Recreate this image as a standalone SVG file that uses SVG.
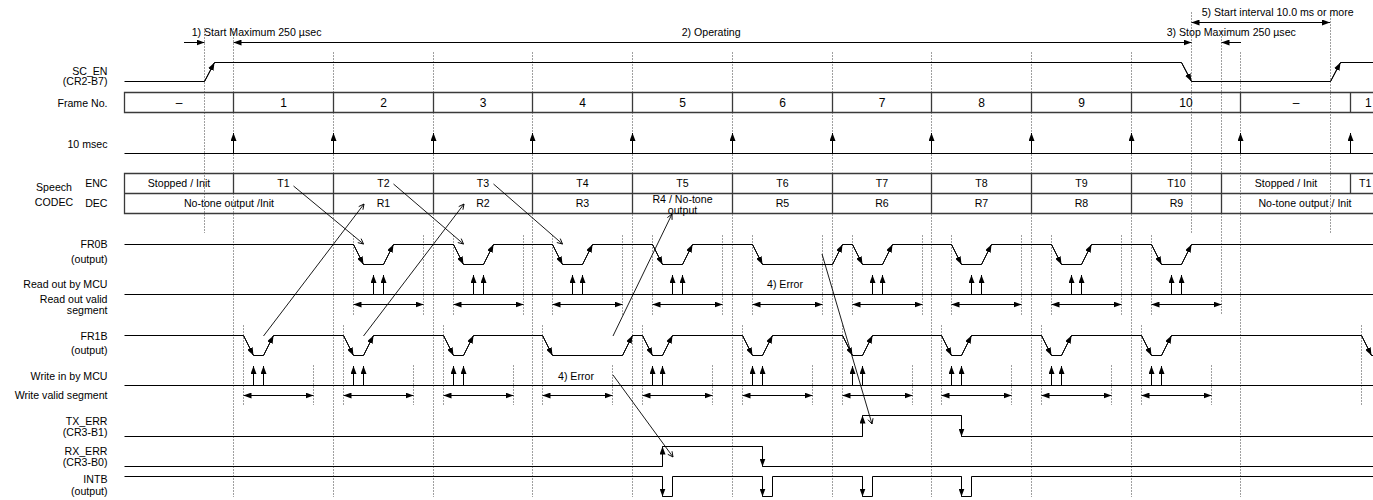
<svg xmlns="http://www.w3.org/2000/svg" width="1373" height="500" viewBox="0 0 1373 500">
<style>
text{font-family:"Liberation Sans",Arial,sans-serif;font-size:10.6px;fill:#000}
.r{text-anchor:end}
.m{text-anchor:middle}
.big{font-size:12px}
.sig{fill:none;stroke:#000;stroke-width:1}
.e{fill:none;stroke:#000;stroke-width:1;marker-end:url(#ah)}
.d{fill:none;stroke:#000;stroke-width:1;marker-start:url(#ah);marker-end:url(#ah)}
.g{fill:none;stroke:#a0a0a0;stroke-width:1;stroke-dasharray:2 1}
.c{fill:none;stroke:#000;stroke-width:0.9;marker-end:url(#oh)}
.cell{fill:none;stroke:#3a3a3a;stroke-width:1.3}
</style>
<defs>
<marker id="ah" viewBox="0 0 8 6" refX="8" refY="3" markerWidth="8" markerHeight="6" markerUnits="userSpaceOnUse" orient="auto-start-reverse"><path d="M0,0 L8,3 L0,6 z" fill="#000"/></marker>
<marker id="oh" viewBox="0 0 8 8" refX="7" refY="4" markerWidth="7" markerHeight="7" markerUnits="userSpaceOnUse" orient="auto"><path d="M1,1 L7,4 L1,7" fill="none" stroke="#000" stroke-width="1"/></marker>
</defs>
<rect width="1373" height="500" fill="#fff"/>

<g id="guides" class="g">
<path d="M204.5,28V233 M233.5,28V497 M333.5,52V497 M433.5,52V497 M532.5,52V497 M632.5,52V497 M732.5,52V497 M832.5,52V497 M931.5,52V497 M1031.5,52V497 M1131.5,52V497 M1191.5,12V233 M1221.5,30V315 M1240.5,52V497 M1330.5,12V233"/>
<path d="M353.5,235V315 M423.5,235V315 M453.5,235V315 M523.5,235V315 M552.5,235V315 M622.5,235V315 M652.5,235V315 M722.5,235V315 M752.5,235V315 M822.5,235V315 M852.5,235V315 M922.5,235V315 M951.5,235V315 M1021.5,235V315 M1051.5,235V315 M1121.5,235V315 M1151.5,235V315"/>
<path d="M243.5,325V405 M343.5,325V405 M443.5,325V405 M542.5,325V405 M642.5,325V405 M742.5,325V405 M842.5,325V405 M941.5,325V405 M1041.5,325V405 M1141.5,325V405 M1361.5,325V405"/>
<path d="M313.5,365V405 M413.5,365V405 M513.5,365V405 M612.5,365V405 M712.5,365V405 M812.5,365V405 M912.5,365V405 M1011.5,365V405 M1111.5,365V405 M1211.5,365V405"/>
</g>

<g id="labels">
<text class="r" x="107.5" y="75">SC_EN</text>
<text class="r" x="107.5" y="84.5">(CR2-B7)</text>
<text class="r" x="107.5" y="106.5">Frame No.</text>
<text class="r" x="107.5" y="147.5">10 msec</text>
<text class="m" x="54" y="191">Speech</text>
<text class="m" x="54" y="205.5">CODEC</text>
<text class="r" x="107.5" y="187">ENC</text>
<text class="r" x="107.5" y="207">DEC</text>
<text class="r" x="107.5" y="248">FR0B</text>
<text class="r" x="107.5" y="263">(output)</text>
<text class="r" x="107.5" y="288.3">Read out by MCU</text>
<text class="r" x="107.5" y="302.7">Read out valid</text>
<text class="r" x="107.5" y="314">segment</text>
<text class="r" x="107.5" y="339.5">FR1B</text>
<text class="r" x="107.5" y="354">(output)</text>
<text class="r" x="107.5" y="379.5">Write in by MCU</text>
<text class="r" x="107.5" y="398.5">Write valid segment</text>
<text class="r" x="107.5" y="424.5">TX_ERR</text>
<text class="r" x="107.5" y="436">(CR3-B1)</text>
<text class="r" x="107.5" y="454.5">RX_ERR</text>
<text class="r" x="107.5" y="466">(CR3-B0)</text>
<text class="r" x="107.5" y="483">INTB</text>
<text class="r" x="107.5" y="494.5">(output)</text>
</g>

<g id="phases">
<text x="191.7" y="36">1) Start Maximum 250 µsec</text>
<text x="681.7" y="36">2) Operating</text>
<text x="1166.7" y="36">3) Stop Maximum 250 µsec</text>
<text x="1201.7" y="15.5">5) Start interval 10.0 ms or more</text>
<path class="e" d="M184,42.5H204.5"/>
<path class="d" d="M233.5,42.5H1191.5"/>
<path class="e" d="M1241,42.5H1221.5"/>
<path class="d" d="M1191.5,22.5H1330"/>
</g>

<g id="sc_en">
<path class="sig" d="M124.5,81.5H204.5L214.5,62.5H1181.5L1191.5,81.5H1330.5L1340.5,62.5H1373"/>
<path class="e" d="M204.5,81.5L214.5,62.5"/>
<path class="e" d="M1181.5,62.5L1191.5,81.5"/>
<path class="e" d="M1330.5,81.5L1340.5,62.5"/>
</g>

<g id="frame_no">
<path class="cell" d="M1373,92.5H124.5V112.5H1373 M233.5,92.5V112.5 M333.5,92.5V112.5 M433.5,92.5V112.5 M532.5,92.5V112.5 M632.5,92.5V112.5 M732.5,92.5V112.5 M832.5,92.5V112.5 M931.5,92.5V112.5 M1031.5,92.5V112.5 M1131.5,92.5V112.5 M1240.5,92.5V112.5 M1350.5,92.5V112.5"/>
<text class="m big" x="179" y="107">–</text>
<text class="m big" x="283.5" y="107">1</text>
<text class="m big" x="383.5" y="107">2</text>
<text class="m big" x="483" y="107">3</text>
<text class="m big" x="582.5" y="107">4</text>
<text class="m big" x="682.5" y="107">5</text>
<text class="m big" x="782.5" y="107">6</text>
<text class="m big" x="882" y="107">7</text>
<text class="m big" x="981.5" y="107">8</text>
<text class="m big" x="1081.5" y="107">9</text>
<text class="m big" x="1186" y="107">10</text>
<text class="m big" x="1296" y="107">–</text>
<text class="big" x="1365" y="107">1</text>
</g>

<g id="ten_msec">
<path class="sig" d="M124.5,153.5H1373"/>
<path class="e" d="M233.5,153.5V133"/>
<path class="e" d="M333.5,153.5V133"/>
<path class="e" d="M433.5,153.5V133"/>
<path class="e" d="M532.5,153.5V133"/>
<path class="e" d="M632.5,153.5V133"/>
<path class="e" d="M732.5,153.5V133"/>
<path class="e" d="M832.5,153.5V133"/>
<path class="e" d="M931.5,153.5V133"/>
<path class="e" d="M1031.5,153.5V133"/>
<path class="e" d="M1131.5,153.5V133"/>
<path class="e" d="M1240.5,153.5V133"/>
<path class="e" d="M1350.5,153.5V133"/>
</g>

<g id="codec">
<path class="cell" d="M1373,173.5H124.5V213.5H1373 M124.5,193.5H1373 M233.5,173.5V193.5 M1350.5,173.5V193.5 M333.5,173.5V213.5 M433.5,173.5V213.5 M532.5,173.5V213.5 M632.5,173.5V213.5 M732.5,173.5V213.5 M832.5,173.5V213.5 M931.5,173.5V213.5 M1031.5,173.5V213.5 M1131.5,173.5V213.5 M1221.5,173.5V213.5"/>
<text class="m" x="179" y="187">Stopped / Init</text>
<text class="m" x="283.5" y="187">T1</text>
<text class="m" x="383.5" y="187">T2</text>
<text class="m" x="483" y="187">T3</text>
<text class="m" x="582.5" y="187">T4</text>
<text class="m" x="682.5" y="187">T5</text>
<text class="m" x="782.5" y="187">T6</text>
<text class="m" x="882" y="187">T7</text>
<text class="m" x="981.5" y="187">T8</text>
<text class="m" x="1081.5" y="187">T9</text>
<text class="m" x="1176.5" y="187">T10</text>
<text class="m" x="1286" y="187">Stopped / Init</text>
<text x="1359" y="187">T1</text>
<text class="m" x="229" y="207">No-tone output /Init</text>
<text class="m" x="383.5" y="207">R1</text>
<text class="m" x="483" y="207">R2</text>
<text class="m" x="582.5" y="207">R3</text>
<text class="m" x="682.5" y="203">R4 / No-tone</text>
<text class="m" x="682.5" y="213.5">output</text>
<text class="m" x="782.5" y="207">R5</text>
<text class="m" x="882" y="207">R6</text>
<text class="m" x="981.5" y="207">R7</text>
<text class="m" x="1081.5" y="207">R8</text>
<text class="m" x="1176.5" y="207">R9</text>
<text class="m" x="1305" y="207">No-tone output / Init</text>
</g>

<g id="fr0b">
<path class="sig" d="M124.5,244.5H353.5L363.5,264.5H383.5L393.5,244.5H453.5L463.5,264.5H483.5L493.5,244.5H552.5L562.5,264.5H582.5L592.5,244.5H652.5L662.5,264.5H682.5L692.5,244.5H752.5L762.5,264.5H832.5L842.5,244.5H852.5L862.5,264.5H882.5L892.5,244.5H951.5L961.5,264.5H981.5L991.5,244.5H1051.5L1061.5,264.5H1081.5L1091.5,244.5H1151.5L1161.5,264.5H1181.5L1191.5,244.5H1373"/>
<path class="e" d="M353.5,244.5L363.5,264.5"/><path class="e" d="M383.5,264.5L393.5,244.5"/>
<path class="e" d="M453.5,244.5L463.5,264.5"/><path class="e" d="M483.5,264.5L493.5,244.5"/>
<path class="e" d="M552.5,244.5L562.5,264.5"/><path class="e" d="M582.5,264.5L592.5,244.5"/>
<path class="e" d="M652.5,244.5L662.5,264.5"/><path class="e" d="M682.5,264.5L692.5,244.5"/>
<path class="e" d="M752.5,244.5L762.5,264.5"/><path class="e" d="M832.5,264.5L842.5,244.5"/>
<path class="e" d="M852.5,244.5L862.5,264.5"/><path class="e" d="M882.5,264.5L892.5,244.5"/>
<path class="e" d="M951.5,244.5L961.5,264.5"/><path class="e" d="M981.5,264.5L991.5,244.5"/>
<path class="e" d="M1051.5,244.5L1061.5,264.5"/><path class="e" d="M1081.5,264.5L1091.5,244.5"/>
<path class="e" d="M1151.5,244.5L1161.5,264.5"/><path class="e" d="M1181.5,264.5L1191.5,244.5"/>
</g>

<g id="read_mcu">
<path class="sig" d="M124.5,294.5H1373"/>
<path class="e" d="M373.5,294.5V275"/><path class="e" d="M383.5,294.5V275"/>
<path class="e" d="M473.5,294.5V275"/><path class="e" d="M483.5,294.5V275"/>
<path class="e" d="M572.5,294.5V275"/><path class="e" d="M582.5,294.5V275"/>
<path class="e" d="M672.5,294.5V275"/><path class="e" d="M682.5,294.5V275"/>
<path class="e" d="M872.5,294.5V275"/><path class="e" d="M882.5,294.5V275"/>
<path class="e" d="M971.5,294.5V275"/><path class="e" d="M981.5,294.5V275"/>
<path class="e" d="M1071.5,294.5V275"/><path class="e" d="M1081.5,294.5V275"/>
<path class="e" d="M1171.5,294.5V275"/><path class="e" d="M1181.5,294.5V275"/>
<text x="767" y="288">4) Error</text>
</g>

<g id="read_seg">
<path class="d" d="M353.5,304.5H423.5"/>
<path class="d" d="M453.5,304.5H523.5"/>
<path class="d" d="M552.5,304.5H622.5"/>
<path class="d" d="M652.5,304.5H722.5"/>
<path class="d" d="M752.5,304.5H822.5"/>
<path class="d" d="M852.5,304.5H922.5"/>
<path class="d" d="M951.5,304.5H1021.5"/>
<path class="d" d="M1051.5,304.5H1121.5"/>
<path class="d" d="M1151.5,304.5H1221.5"/>
</g>

<g id="fr1b">
<path class="sig" d="M124.5,335.5H243.5L253.5,355.5H263.5L273.5,335.5H343.5L353.5,355.5H363.5L373.5,335.5H443.5L453.5,355.5H463.5L473.5,335.5H542.5L552.5,355.5H622.5L632.5,335.5H642.5L652.5,355.5H662.5L672.5,335.5H742.5L752.5,355.5H762.5L772.5,335.5H842.5L852.5,355.5H862.5L872.5,335.5H941.5L951.5,355.5H961.5L971.5,335.5H1041.5L1051.5,355.5H1061.5L1071.5,335.5H1141.5L1151.5,355.5H1161.5L1171.5,335.5H1361.5L1371.5,355.5H1373"/>
<path class="e" d="M243.5,335.5L253.5,355.5"/><path class="e" d="M263.5,355.5L273.5,335.5"/>
<path class="e" d="M343.5,335.5L353.5,355.5"/><path class="e" d="M363.5,355.5L373.5,335.5"/>
<path class="e" d="M443.5,335.5L453.5,355.5"/><path class="e" d="M463.5,355.5L473.5,335.5"/>
<path class="e" d="M542.5,335.5L552.5,355.5"/><path class="e" d="M622.5,355.5L632.5,335.5"/>
<path class="e" d="M642.5,335.5L652.5,355.5"/><path class="e" d="M662.5,355.5L672.5,335.5"/>
<path class="e" d="M742.5,335.5L752.5,355.5"/><path class="e" d="M762.5,355.5L772.5,335.5"/>
<path class="e" d="M842.5,335.5L852.5,355.5"/><path class="e" d="M862.5,355.5L872.5,335.5"/>
<path class="e" d="M941.5,335.5L951.5,355.5"/><path class="e" d="M961.5,355.5L971.5,335.5"/>
<path class="e" d="M1041.5,335.5L1051.5,355.5"/><path class="e" d="M1061.5,355.5L1071.5,335.5"/>
<path class="e" d="M1141.5,335.5L1151.5,355.5"/><path class="e" d="M1161.5,355.5L1171.5,335.5"/>
<path class="e" d="M1361.5,335.5L1371.5,355.5"/>
</g>

<g id="write_mcu">
<path class="sig" d="M124.5,385.5H1373"/>
<path class="e" d="M253.5,385.5V366"/><path class="e" d="M263.5,385.5V366"/>
<path class="e" d="M353.5,385.5V366"/><path class="e" d="M363.5,385.5V366"/>
<path class="e" d="M453.5,385.5V366"/><path class="e" d="M463.5,385.5V366"/>
<path class="e" d="M652.5,385.5V366"/><path class="e" d="M662.5,385.5V366"/>
<path class="e" d="M752.5,385.5V366"/><path class="e" d="M762.5,385.5V366"/>
<path class="e" d="M852.5,385.5V366"/><path class="e" d="M862.5,385.5V366"/>
<path class="e" d="M951.5,385.5V366"/><path class="e" d="M961.5,385.5V366"/>
<path class="e" d="M1051.5,385.5V366"/><path class="e" d="M1061.5,385.5V366"/>
<path class="e" d="M1151.5,385.5V366"/><path class="e" d="M1161.5,385.5V366"/>
<text x="558" y="379.5">4) Error</text>
</g>

<g id="write_seg">
<path class="d" d="M243.5,395.5H313.5"/>
<path class="d" d="M343.5,395.5H413.5"/>
<path class="d" d="M443.5,395.5H513.5"/>
<path class="d" d="M542.5,395.5H612.5"/>
<path class="d" d="M642.5,395.5H712.5"/>
<path class="d" d="M742.5,395.5H812.5"/>
<path class="d" d="M842.5,395.5H912.5"/>
<path class="d" d="M941.5,395.5H1011.5"/>
<path class="d" d="M1041.5,395.5H1111.5"/>
<path class="d" d="M1141.5,395.5H1211.5"/>
</g>

<g id="tx_err">
<path class="sig" d="M124.5,436.5H862.5V415.5H961.5V436.5H1373"/>
<path class="e" d="M862.5,436.5V415.5"/>
<path class="e" d="M961.5,415.5V436.5"/>
</g>

<g id="rx_err">
<path class="sig" d="M124.5,466.5H662.5V446.5H762.5V466.5H1373"/>
<path class="e" d="M662.5,466.5V446.5"/>
<path class="e" d="M762.5,446.5V466.5"/>
</g>

<g id="intb">
<path class="sig" d="M124.5,476.5H662.5V496.5H672.5V476.5H762.5V496.5H772.5V476.5H862.5V496.5H872.5V476.5H961.5V496.5H971.5V476.5H1373"/>
<path class="e" d="M662.5,476.5V496.5"/>
<path class="e" d="M762.5,476.5V496.5"/>
<path class="e" d="M862.5,476.5V496.5"/>
<path class="e" d="M961.5,476.5V496.5"/>
</g>

<g id="connectors">
<path class="c" d="M293.5,186L363.5,244"/>
<path class="c" d="M393.5,184L463.5,244"/>
<path class="c" d="M493.5,184L562.5,244"/>
<path class="c" d="M263.5,336L364,204"/>
<path class="c" d="M363.5,336L464,204"/>
<path class="c" d="M613,336L672,214"/>
<path class="c" d="M613,375L673,457"/>
<path class="c" d="M822,254L872,424"/>
</g>
</svg>
